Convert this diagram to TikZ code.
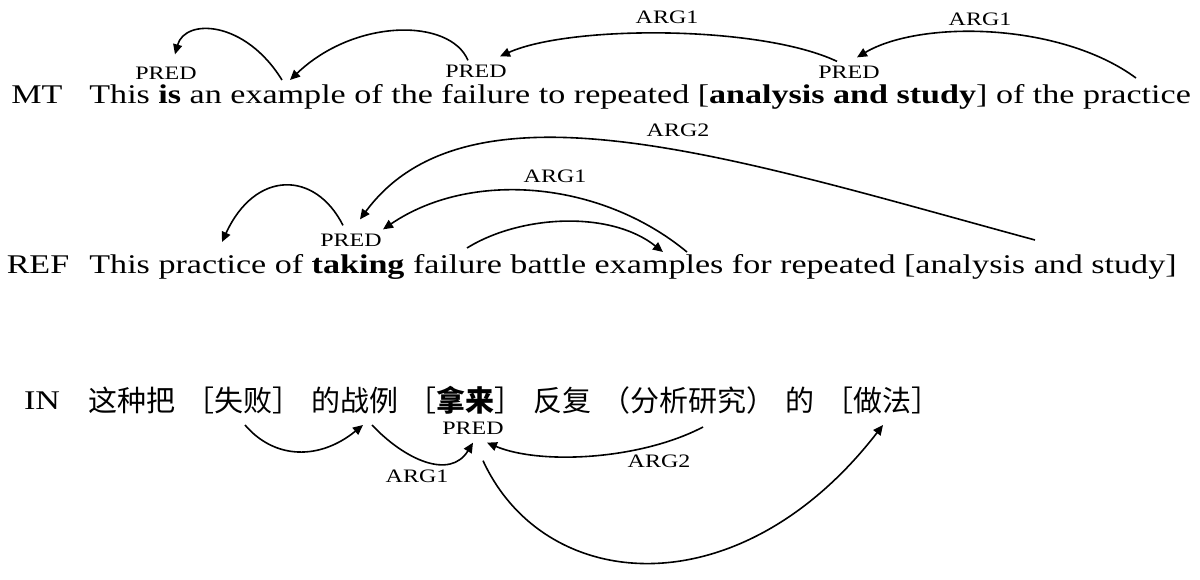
\documentclass[tikz,border=0pt]{standalone}
\usepackage{fontspec}
\setmainfont{Liberation Serif}[FakeStretch=1.262]
\newfontfamily\cjk{Noto Sans CJK SC}
\usetikzlibrary{arrows.meta}
\newcommand{\gap}{\hspace{0.34em}}

\begin{document}
\begin{tikzpicture}[
    x=0.5pt, y=-0.5pt,
    sent/.style={anchor=base west, inner sep=0pt, font=\fontsize{13.5}{16}\selectfont},
    lang/.style={anchor=base, inner sep=0pt, font=\fontsize{13.5}{16}\selectfont},
    rel/.style={inner sep=2pt, font=\fontsize{9.5}{11}\selectfont},
    link/.style={-{Triangle[length=5pt,width=4.5pt]}, line width=0.8pt}
]
\useasboundingbox (0,0) rectangle (1200,579);

% MT sentence
\node[lang] (mt) at (37,103) {MT};
\node[sent] (mtline) at (89,103) {This \textbf{is} an example of the failure to repeated [\textbf{analysis and study}] of the practice};
\node[rel] (pred1) at (166,73) {PRED};
\node[rel] (pred2) at (476,71) {PRED};
\node[rel] (pred3) at (849,72) {PRED};
\node[rel] (arg1a) at (667,17) {ARG1};
\node[rel] (arg1b) at (980,19) {ARG1};
\coordinate (example) at (285,80);
\coordinate (practice) at (1136,78);

% MT arrows
\draw[link] ([xshift=-1.5pt]example) .. controls (245,20) and (185,18) .. ([xshift=4.5pt,yshift=4pt]pred1.north);
\draw[link] ([xshift=-4pt]pred2.north) .. controls (450,18) and (355,18) .. ([xshift=2.5pt]example);
\draw[link] ([xshift=-6pt]pred3.north) .. controls (760,25) and (570,25) .. ([xshift=12pt,yshift=2pt]pred2.north);
\draw[link] (practice) .. controls (1060,22) and (920,20) .. ([xshift=4pt,yshift=2pt]pred3.north);

% REF sentence
\node[lang] (ref) at (38,273) {REF};
\node[sent] (refline) at (89,273) {This practice of \textbf{taking} failure battle examples for repeated [analysis and study]};
\node[rel] (predr) at (351,240) {PRED};
\node[rel] (arg2r) at (678,130) {ARG2};
\node[rel] (arg1r) at (555,176) {ARG1};
\coordinate (practicer) at (222,242);
\coordinate (failure) at (467,248);
\coordinate (examples) at (675,252);
\coordinate (analysis) at (1035,240);

% REF arrows
\draw[link] ([xshift=-4pt,yshift=2pt]predr.north) .. controls (315,170) and (255,170) .. (practicer);
\draw[link] (analysis) .. controls (740,160) and (470,70) .. ([xshift=4.5pt,yshift=5pt]predr.north);
\draw[link] ([xshift=6pt]examples) .. controls (600,180) and (470,170) .. ([xshift=-1.5pt]predr.north east);
\draw[link] (failure) .. controls (520,215) and (610,210) .. ([xshift=-6pt]examples);

% IN sentence
\node[lang] (in) at (42,409) {IN};
\node[sent, anchor=west, font=\fontsize{14.5}{17}\selectfont] (inline) at (88,400) {\cjk 这种把\gap［失败］\gap 的战例\gap［\textbf{拿来}］\gap 反复\gap（分析研究）\gap 的\gap［做法］};
\node[rel] (predi) at (473,428) {PRED};
\node[rel] (arg1i) at (417,476) {ARG1};
\node[rel] (arg2i) at (659,461) {ARG2};
\coordinate (shibai) at (245,425);
\coordinate (zhanli) at (368,425);
\coordinate (fenxi) at (703,427);
\coordinate (zuofa) at (883,425);

% IN arrows
\draw[link] (shibai) .. controls (275,460) and (320,460) .. ([xshift=-2.5pt]zhanli);
\draw[link] ([xshift=2pt]zhanli) .. controls (405,460) and (450,480) .. ([yshift=-2pt]predi.south);
\draw[link] (fenxi) .. controls (640,460) and (540,465) .. ([xshift=7pt,yshift=-2pt]predi.south);
\draw[link] ([xshift=5pt,yshift=-11pt]predi.south) .. controls (545,595) and (740,610) .. (zuofa);

\end{tikzpicture}
\end{document}
